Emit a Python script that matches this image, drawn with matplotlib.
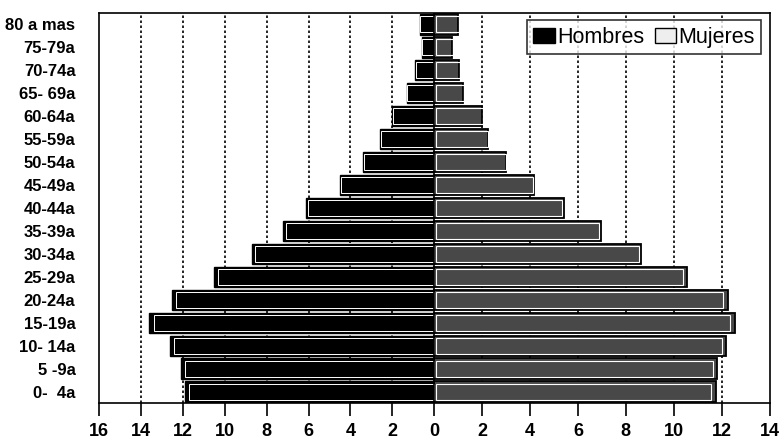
import numpy as np
import matplotlib
matplotlib.use("Agg")
import matplotlib.pyplot as plt
from matplotlib.patches import Patch

plt.rcParams['font.family'] = ['Liberation Sans Narrow', 'Liberation Sans', 'DejaVu Sans']

grupos = ["0-  4a", "5 -9a", "10- 14a", "15-19a", "20-24a", "25-29a", "30-34a",
          "35-39a", "40-44a", "45-49a", "50-54a", "55-59a", "60-64a", "65- 69a",
          "70-74a", "75-79a", "80 a mas"]
hombres = [11.9, 12.1, 12.6, 13.6, 12.5, 10.5, 8.7, 7.2, 6.1, 4.5, 3.4, 2.6, 2.0, 1.3, 0.9, 0.6, 0.7]
mujeres = [11.75, 11.8, 12.2, 12.55, 12.25, 10.55, 8.65, 6.95, 5.4, 4.15, 3.0, 2.25, 2.0, 1.2, 1.05, 0.75, 1.0]
xticks = [-16, -14, -12, -10, -8, -6, -4, -2, 0, 2, 4, 6, 8, 10, 12, 14]

# scanned chart: left half is slightly compressed relative to the right half
k = 21.0 / 24.0
def fwd(x):
    x = np.asarray(x, dtype=float)
    return np.where(x < 0, x * k, x)
def inv(y):
    y = np.asarray(y, dtype=float)
    return np.where(y < 0, y / k, y)

fig = plt.figure(figsize=(7.8, 4.4), dpi=100)
ax = fig.add_axes([99/780, 1 - 403.3/440, (769.5 - 99)/780, (403.3 - 12.7)/440])
ax.set_xscale('function', functions=(fwd, inv))

y = np.arange(len(grupos))
h = 0.9
neg = [-v for v in hombres]

for g in [-14, -12, -10, -8, -6, -4, -2, 2, 4, 6, 8, 10, 12]:
    ax.axvline(g, color='black', linestyle=(0, (1.5, 1.5)), linewidth=1.2, zorder=0)

ax.barh(y, neg, height=h, color='black', edgecolor='black', linewidth=1.0, zorder=2)
ax.barh(y, [v * 0.985 for v in neg], height=h * 0.8, left=0, color='none',
        edgecolor='white', linewidth=0.7, zorder=3)
ax.barh(y, mujeres, height=h, color='#484848', edgecolor='black', linewidth=1.3, zorder=2)
ax.barh(y, [v * 0.98 for v in mujeres], height=h * 0.78, left=0.06, color='none',
        edgecolor='white', linewidth=0.8, zorder=3)

ax.axvline(0, color='black', linewidth=1.2, zorder=4)

ax.set_xlim(-16, 14)
ax.set_ylim(-0.5, len(grupos) - 0.5)
ax.set_xticks(xticks)
ax.set_xticklabels([str(abs(t)) for t in xticks], fontsize=13, fontweight='bold')
ax.set_yticks(y)
ax.set_yticklabels(grupos, fontsize=12, fontweight='bold')
ax.tick_params(axis='y', length=0, pad=17)
ax.tick_params(axis='x', length=9, width=1.2, direction='out', pad=5)
for s in ax.spines.values():
    s.set_linewidth(1.2)
    s.set_color('black')

handles = [Patch(facecolor='black', edgecolor='black'),
           Patch(facecolor='#eeeeee', edgecolor='black')]
leg = ax.legend(handles, ['Hombres', 'Mujeres'], loc='upper right', ncol=2,
                frameon=True, fancybox=False, edgecolor='black',
                handlelength=1.0, handleheight=0.7, handletextpad=0.1,
                columnspacing=0.5, borderpad=0.3, borderaxespad=0,
                bbox_to_anchor=(0.988, 0.981),
                prop={'family': ['Liberation Sans', 'DejaVu Sans'], 'size': 15.5})
leg.get_frame().set_linewidth(1.2)

fig.savefig('out.png', dpi=100)
